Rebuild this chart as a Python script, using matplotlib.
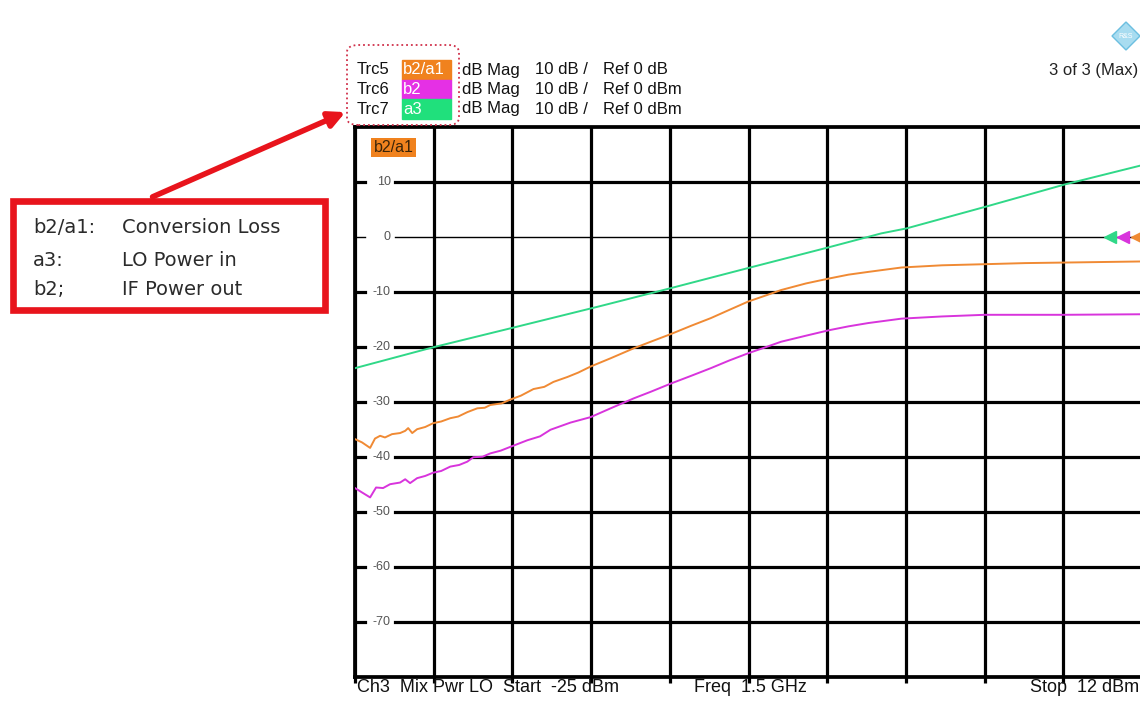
import numpy as np
import matplotlib
matplotlib.use("Agg")
import matplotlib.pyplot as plt
from matplotlib.patches import Rectangle, FancyBboxPatch, FancyArrowPatch, Polygon
from matplotlib.transforms import blended_transform_factory

plt.rcParams['font.family'] = ['Liberation Sans', 'DejaVu Sans']

# Sweep: LO power in dBm
x_start, x_stop = -25, 12
y_min, y_max = -80, 20
y_ticks = [10, 0, -10, -20, -30, -40, -50, -60, -70]

# Trc5 b2/a1 (conversion loss, dB)
conv_lo = [-25.00, -24.67, -24.29, -24.06, -23.82, -23.59, -23.26, -22.88, -22.64, -22.50,
           -22.31, -22.08, -21.70, -21.32, -20.95, -20.52, -20.15, -19.72, -19.25, -18.90,
           -18.64, -18.10, -17.69, -17.20, -16.61, -16.10, -15.67, -15.01, -14.50, -13.92,
           -12.98, -11.90, -11.10, -10.15, -9.20, -8.27, -7.40, -6.52, -5.70, -4.97,
           -3.80, -2.71, -1.80, -0.87, 0.69, 2.60, 4.60, 6.50, 8.37, 12.00]
conv_db = [-36.8, -37.4, -38.4, -36.7, -36.2, -36.5, -35.9, -35.7, -35.3, -34.8,
           -35.7, -35.0, -34.6, -33.9, -33.6, -33.0, -32.7, -31.9, -31.2, -31.1,
           -30.6, -30.3, -29.6, -28.9, -27.7, -27.3, -26.4, -25.5, -24.7, -23.6,
           -22.1, -20.3, -19.1, -17.7, -16.2, -14.8, -13.3, -11.8, -10.7, -9.7,
           -8.5, -7.6, -6.9, -6.4, -5.6, -5.2, -5.0, -4.8, -4.7, -4.5]

# Trc6 b2 (IF power out, dBm)
if_lo = [-25.00, -24.67, -24.29, -24.01, -23.68, -23.35, -22.88, -22.64, -22.41, -22.08,
         -21.70, -21.32, -20.95, -20.52, -20.10, -19.72, -19.44, -19.00, -18.64, -18.15,
         -17.69, -16.89, -16.30, -15.81, -14.87, -13.92, -12.98, -11.90, -11.10, -10.15,
         -9.20, -8.27, -7.40, -6.52, -5.70, -4.97, -3.80, -2.71, -1.80, -0.87,
         0.69, 2.60, 4.60, 8.37, 12.00]
if_dbm = [-45.7, -46.5, -47.4, -45.6, -45.7, -45.0, -44.7, -44.1, -44.8, -43.9,
          -43.5, -42.9, -42.6, -41.8, -41.5, -40.9, -40.1, -40.0, -39.4, -38.9,
          -38.2, -37.0, -36.3, -35.1, -33.8, -32.8, -31.2, -29.4, -28.2, -26.7,
          -25.3, -23.9, -22.5, -21.2, -20.1, -19.1, -18.0, -17.0, -16.3, -15.7,
          -14.9, -14.5, -14.2, -14.2, -14.1]

# Trc7 a3 (LO power in, dBm)
lo_lo = [-25.00, -21.32, -17.84, -13.45, -10.20, -6.52, -2.80, -0.26, 0.92, 4.60, 8.37, 12.00]
lo_dbm = [-23.9, -20.1, -16.8, -12.6, -9.4, -5.7, -2.0, 0.6, 1.5, 5.4, 9.5, 13.0]

ref_level = [0, 0, 0]

traces = [("Trc5", "b2/a1", "dB Mag", "10 dB /", "Ref 0 dB"),
          ("Trc6", "b2", "dB Mag", "10 dB /", "Ref 0 dBm"),
          ("Trc7", "a3", "dB Mag", "10 dB /", "Ref 0 dBm")]

c_orange, c_magenta, c_green = '#f08a34', '#d834dc', '#30d888'
box_cols = ['#f0821e', '#e530e5', '#20e07c']
red = '#e8141c'

W, H = 1140, 702
def fx(px):
    return px / W
def fy(py):
    return 1 - py / H

fig = plt.figure(figsize=(W / 100, H / 100), dpi=100)
ax = fig.add_axes([fx(355), fy(676.7), 787 / W, 550 / H])
ax.set_xlim(x_start, x_stop)
ax.set_ylim(y_min, y_max)

# vertical grid = x ticks, little stubs below the frame
ax.set_xticks(np.linspace(x_start, x_stop, 11))
ax.set_xticklabels([])
ax.tick_params(axis='x', direction='out', length=4, width=2.3, color='black', top=False)
ax.grid(axis='x', color='black', lw=2.3)
ax.set_yticks([])
for s in ax.spines.values():
    s.set_linewidth(2.7)
    s.set_color('black')

# horizontal grid, interrupted by the labels
bt = blended_transform_factory(ax.transAxes, ax.transData)
for v in y_ticks:
    lw = 1.0 if v == 0 else 2.3
    ax.axhline(v, xmin=0, xmax=0.013, color='black', lw=lw, zorder=1)
    ax.axhline(v, xmin=0.051, xmax=1, color='black', lw=lw, zorder=1)
    ax.text(0.0455, v, str(v), transform=bt, ha='right', va='center',
            fontsize=9, color='#555555')

ax.plot(lo_lo, lo_dbm, color=c_green, lw=1.4, zorder=3)
ax.plot(conv_lo, conv_db, color=c_orange, lw=1.4, zorder=3)
ax.plot(if_lo, if_dbm, color=c_magenta, lw=1.4, zorder=3)

# reference level markers on the right edge
for xm, r, c in zip([0.959, 0.976, 0.994], ref_level, [c_green, c_magenta, c_orange]):
    ax.plot([xm], [r], marker='<', ms=9, color=c, transform=bt, clip_on=False, zorder=4)

# active trace label inside the diagram
ax.text(0.0235, 0.962, "b2/a1", transform=ax.transAxes, fontsize=11.5, color='#3a2408',
        va='center', ha='left',
        bbox=dict(boxstyle='square,pad=0.15', fc=box_cols[0], ec='none'))

# header with trace list
rows_y = [70, 89.5, 109]
for (trc, meas, fmt, scale, ref), ry, bc in zip(traces, rows_y, box_cols):
    fig.text(fx(357), fy(ry), trc, fontsize=12, va='center', color='#111111')
    fig.patches.append(Rectangle((fx(401.7), fy(ry + 9.8)), 49.3 / W, 19.6 / H,
                                 transform=fig.transFigure, color=bc, zorder=1))
    fig.text(fx(403), fy(ry), meas, fontsize=12, va='center', color='white', zorder=2)
    fig.text(fx(462), fy(ry), fmt, fontsize=12, va='center', color='#111111')
    fig.text(fx(535), fy(ry), scale, fontsize=12, va='center', color='#111111')
    fig.text(fx(603), fy(ry), ref, fontsize=12, va='center', color='#111111')

fig.patches.append(FancyBboxPatch((fx(347), fy(125)), 112 / W, 80 / H,
                                  boxstyle='round,pad=0,rounding_size=0.01',
                                  transform=fig.transFigure, fill=False,
                                  ls=':', lw=1.3, ec='#d0304a'))

fig.text(fx(1138), fy(70), "3 of 3 (Max)", fontsize=12, ha='right', va='center', color='#222222')
# R&S logo
cx, cy, r = 1126, 36, 14
fig.patches.append(Polygon([(fx(cx - r), fy(cy)), (fx(cx), fy(cy - r)), (fx(cx + r), fy(cy)),
                            (fx(cx), fy(cy + r))], closed=True, transform=fig.transFigure,
                           fc='#a8dcf0', ec='#6cbfe0', lw=1))
fig.text(fx(cx), fy(cy), "R&S", fontsize=5, ha='center', va='center', color='white')

# footer
fig.text(fx(357), fy(688), "Ch3  Mix Pwr LO  Start  -25 dBm", fontsize=13, va='center', color='#111111')
fig.text(fx(694), fy(688), "Freq  1.5 GHz", fontsize=13, va='center', color='#111111')
fig.text(fx(1139), fy(688), "Stop  12 dBm", fontsize=13, ha='right', va='center', color='#111111')

# annotation box
fig.patches.append(Rectangle((fx(13.3), fy(309.7)), 311.4 / W, 108.4 / H, fill=False,
                             lw=4.8, ec=red, transform=fig.transFigure))
notes = [("b2/a1:", "Conversion Loss"), ("a3:", "LO Power in"), ("b2;", "IF Power out")]
for (k, t), ry in zip(notes, [228, 260, 290]):
    fig.text(fx(33), fy(ry), k, fontsize=14, family='DejaVu Sans', va='center', color='#2b2b2b')
    fig.text(fx(122), fy(ry), t, fontsize=14, family='DejaVu Sans', va='center', color='#2b2b2b')

fig.patches.append(FancyArrowPatch((fx(150), fy(198)), (fx(348), fy(111)),
                                   transform=fig.transFigure, arrowstyle='-|>',
                                   mutation_scale=24, lw=4, color=red))

fig.savefig("out.png", dpi=100)
